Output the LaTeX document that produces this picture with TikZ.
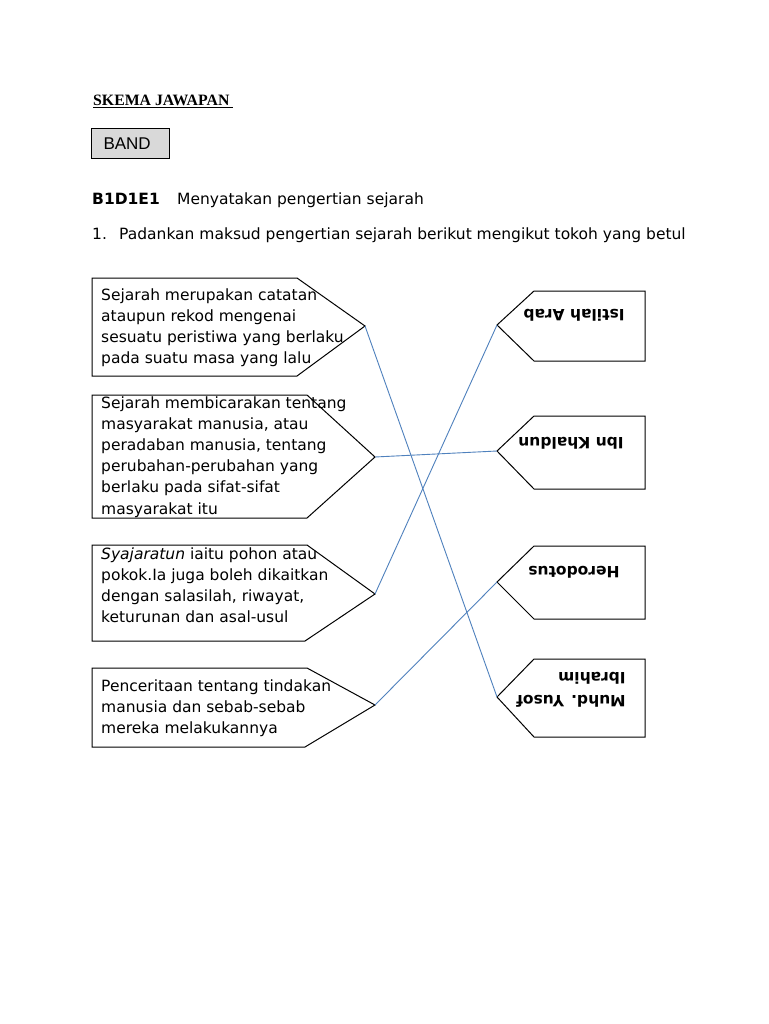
\documentclass[tikz,border=0pt]{standalone}
\usepackage{fontspec}
\setmainfont{DejaVu Sans}
\newfontfamily\tnrfont{Liberation Serif}
\newfontfamily\arialfont{Liberation Sans}
\definecolor{connblue}{HTML}{4F81BD}
\definecolor{bandgray}{HTML}{D9D9D9}
\begin{document}
\begin{tikzpicture}[x=1pt,y=-1pt,
  body/.style={font=\fontsize{15.5}{21.2}\selectfont, inner sep=0pt, align=left, anchor=base west},
  boldbody/.style={body, font=\bfseries\fontsize{15.5}{21.2}\selectfont},
  shapeline/.style={draw=black, line width=1pt, line join=miter},
  conn/.style={draw=connblue, line width=0.9pt},
  rlabel/.style={font=\bfseries\fontsize{15.5}{23.5}\selectfont, rotate=180, inner sep=0pt, align=left, anchor=center},
  bandbox/.style={draw=black, line width=1pt, fill=bandgray, anchor=north west, inner xsep=12pt, inner ysep=0pt,
    text width=54pt, minimum height=30pt, align=left, font=\arialfont\fontsize{17}{20}\selectfont}]
\useasboundingbox (0,0) rectangle (768,1024);
\fill[white] (0,0) rectangle (768,1024);

% header
\node[font=\tnrfont\bfseries\fontsize{15.8}{18}\selectfont, anchor=base west, inner sep=0pt] (title) at (93,106) {\underline{SKEMA JAWAPAN\ }};
\node[bandbox] (band) at (91,128) {BAND};
\node[boldbody] (code) at (92,205) {B1D1E1};
\node[body] (desc) at (177,205) {Menyatakan pengertian sejarah};
\node[body] (num) at (92,240) {1.};
\node[body] (question) at (119,240) {Padankan maksud pengertian sejarah berikut mengikut tokoh yang betul};

% connection points
\coordinate (L1) at (365,326);
\coordinate (L2) at (375,457);
\coordinate (L3) at (375,594);
\coordinate (L4) at (375,705);
\coordinate (R1) at (497,325);
\coordinate (R2) at (497,451);
\coordinate (R3) at (497,582);
\coordinate (R4) at (497,697);

% left shapes
\draw[shapeline] (92,278) -- (297,278) -- (L1) -- (297,376) -- (92,376) -- cycle;
\draw[shapeline] (92,395) -- (307,395) -- (L2) -- (307,518) -- (92,518) -- cycle;
\draw[shapeline] (92,545) -- (307,545) -- (L3) -- (305,641) -- (92,641) -- cycle;
\draw[shapeline] (92,668) -- (307,668) -- (L4) -- (305,747) -- (92,747) -- cycle;

% right shapes
\draw[shapeline] (645,291) -- (534,291) -- (R1) -- (534,361) -- (645,361) -- cycle;
\draw[shapeline] (645,416) -- (534,416) -- (R2) -- (534,489) -- (645,489) -- cycle;
\draw[shapeline] (645,546) -- (534,546) -- (R3) -- (534,619) -- (645,619) -- cycle;
\draw[shapeline] (645,659) -- (534,659) -- (R4) -- (534,737) -- (645,737) -- cycle;

% left texts (anchored at the baseline of their last line)
\node[body] (t1) at (101,363.6) {Sejarah merupakan catatan\\ataupun rekod mengenai\\sesuatu peristiwa yang berlaku\\pada suatu masa yang lalu};
\node[body] (t2) at (101,514) {Sejarah membicarakan tentang\\masyarakat manusia, atau\\peradaban manusia, tentang\\perubahan-perubahan yang\\berlaku pada sifat-sifat\\masyarakat itu};
\node[body] (t3) at (101,622.6) {\textit{Syajaratun} iaitu pohon atau\\pokok.Ia juga boleh dikaitkan\\dengan salasilah, riwayat,\\keturunan dan asal-usul};
\node[body] (t4) at (101,733.4) {Penceritaan tentang tindakan\\manusia dan sebab-sebab\\mereka melakukannya};

% right texts (upside down)
\node[rlabel] (r1) at (574,315) {Istilah Arab};
\node[rlabel] (r2) at (571,443) {Ibn Khaldun};
\node[rlabel] (r3) at (574,572) {Herodotus};
\node[rlabel] (r4) at (571,690) {Muhd. Yusof\\Ibrahim};

% connectors
\draw[conn] (L1) -- (R4);
\draw[conn] (L2) -- (R2);
\draw[conn] (L3) -- (R1);
\draw[conn] (L4) -- (R3);
\end{tikzpicture}
\end{document}
